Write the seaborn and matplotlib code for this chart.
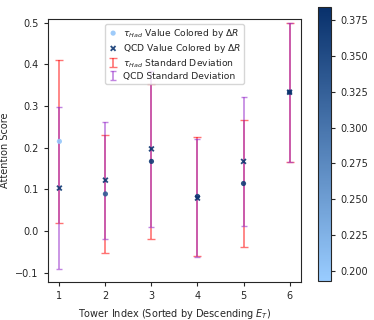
import numpy as np
import pandas as pd
import seaborn as sns
import matplotlib
matplotlib.use("Agg")
from matplotlib import pyplot as plt
from matplotlib.colors import LinearSegmentedColormap, Normalize

# data
towers = [1, 2, 3, 4, 5, 6]
had_mean = [0.215, 0.089, 0.167, 0.083, 0.114, 0.333]
had_std = [0.195, 0.141, 0.185, 0.143, 0.153, 0.167]
had_dr = [0.200, 0.330, 0.370, 0.365, 0.368, 0.380]
qcd_mean = [0.103, 0.122, 0.197, 0.079, 0.167, 0.333]
qcd_std = [0.194, 0.140, 0.187, 0.142, 0.155, 0.167]
qcd_dr = [0.372, 0.375, 0.378, 0.376, 0.377, 0.380]

vmin, vmax = 0.193, 0.384
cmap = LinearSegmentedColormap.from_list("lb", ["#99ccff", "#08306b"])
norm = Normalize(vmin, vmax)

df_had = pd.DataFrame({"tower": towers, "score": had_mean, "dr": had_dr})
df_qcd = pd.DataFrame({"tower": towers, "score": qcd_mean, "dr": qcd_dr})

sns.set_style("ticks")
plt.rcParams["font.family"] = ["DejaVu Sans"]

fig = plt.figure(figsize=(3.74, 3.2), dpi=100)
ax = fig.add_axes([0.128, 0.119, 0.677, 0.821])
cax = fig.add_axes([318 / 374, 1 - 281 / 320, 13 / 374, 274 / 320])

e1 = ax.errorbar(towers, had_mean, yerr=had_std, fmt="none", ecolor="red",
                 alpha=0.55, capsize=3, elinewidth=1.2,
                 label=r"$\tau_{Had}$ Standard Deviation")
e2 = ax.errorbar(towers, qcd_mean, yerr=qcd_std, fmt="none", ecolor="#9932cc",
                 alpha=0.6, capsize=2, elinewidth=1.2,
                 label="QCD Standard Deviation")

sns.scatterplot(data=df_had, x="tower", y="score", hue="dr", palette=cmap,
                hue_norm=norm, marker="o", s=14, edgecolor="none", alpha=0.9,
                legend=False, ax=ax, zorder=3)
sns.scatterplot(data=df_qcd, x="tower", y="score", hue="dr", palette=cmap,
                hue_norm=norm, marker="x", s=12, linewidth=1.3, alpha=0.9,
                legend=False, ax=ax, zorder=4)

s1, s2 = ax.collections[-2], ax.collections[-1]
ax.legend([s1, s2, e1, e2],
          [r"$\tau_{Had}$ Value Colored by $\Delta R$",
           r"QCD Value Colored by $\Delta R$",
           r"$\tau_{Had}$ Standard Deviation",
           "QCD Standard Deviation"],
          loc="upper center", fontsize=6.6, handlelength=1.2,
          borderpad=0.3, labelspacing=0.25, handletextpad=0.5)

ax.set_ylim(-0.122, 0.508)
ax.set_xticks(towers)
ax.set_xlabel(r"Tower Index (Sorted by Descending $E_T$)", fontsize=7)
ax.set_ylabel("Attention Score", fontsize=7)
ax.tick_params(labelsize=7, length=3)

sm = plt.cm.ScalarMappable(cmap=cmap, norm=norm)
cb = fig.colorbar(sm, cax=cax)
cb.set_ticks([0.2, 0.225, 0.25, 0.275, 0.3, 0.325, 0.35, 0.375])
cb.ax.tick_params(labelsize=7, length=3)

fig.savefig("out.png", dpi=100)
